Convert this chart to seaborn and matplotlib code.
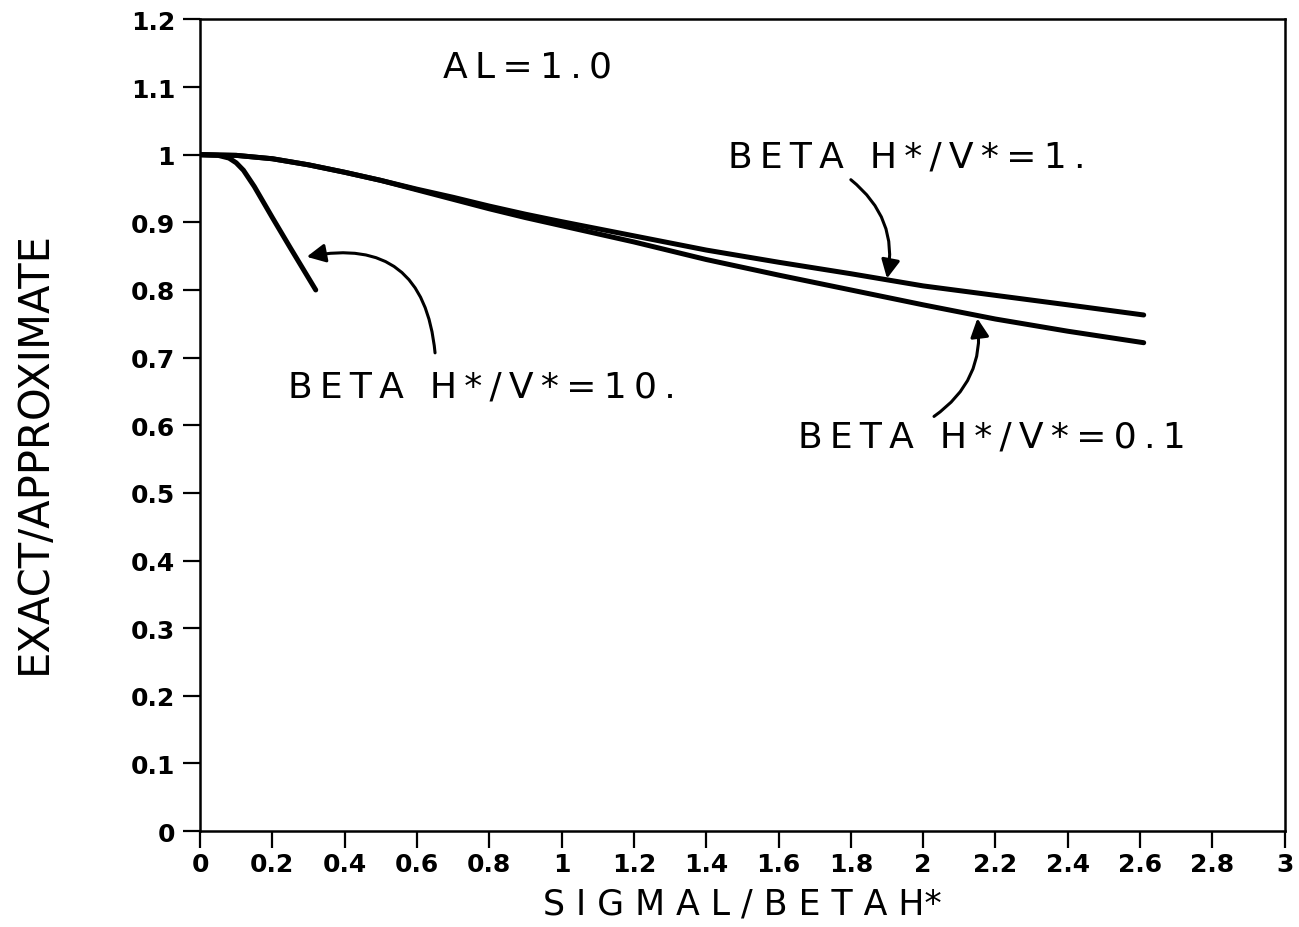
import numpy as np
import pandas as pd
import matplotlib
matplotlib.use("Agg")
import matplotlib.pyplot as plt
import seaborn as sns

# ---- data ----
x_beta1 = [0.0, 0.1, 0.2, 0.3, 0.4, 0.5, 0.6, 0.7, 0.8, 0.9, 1.0, 1.2, 1.4, 1.6, 1.8, 2.0, 2.2, 2.4, 2.61]
y_beta1 = [1.000, 0.999, 0.994, 0.985, 0.974, 0.962, 0.949, 0.937, 0.924, 0.912, 0.901, 0.880, 0.859, 0.841, 0.824, 0.806, 0.792, 0.778, 0.763]

x_beta01 = [0.0, 0.1, 0.2, 0.3, 0.4, 0.5, 0.6, 0.7, 0.8, 0.9, 1.0, 1.2, 1.4, 1.6, 1.8, 2.0, 2.2, 2.4, 2.61]
y_beta01 = [1.000, 0.999, 0.994, 0.985, 0.974, 0.962, 0.948, 0.934, 0.920, 0.907, 0.895, 0.871, 0.845, 0.822, 0.800, 0.778, 0.757, 0.739, 0.722]

x_beta10 = [0.0, 0.05, 0.08, 0.10, 0.12, 0.15, 0.20, 0.25, 0.32]
y_beta10 = [1.000, 0.999, 0.995, 0.988, 0.977, 0.953, 0.907, 0.862, 0.800]

series_names = ["BETA H*/V*=1.", "BETA H*/V*=0.1", "BETA H*/V*=10."]

x_ticks = [0, 0.2, 0.4, 0.6, 0.8, 1, 1.2, 1.4, 1.6, 1.8, 2, 2.2, 2.4, 2.6, 2.8, 3]
x_ticklabels = ["0", "0.2", "0.4", "0.6", "0.8", "1", "1.2", "1.4", "1.6", "1.8", "2",
                "2.2", "2.4", "2.6", "2.8", "3"]
y_ticks = [0, 0.1, 0.2, 0.3, 0.4, 0.5, 0.6, 0.7, 0.8, 0.9, 1.0, 1.1, 1.2]
y_ticklabels = ["0", "0.1", "0.2", "0.3", "0.4", "0.5", "0.6", "0.7", "0.8", "0.9", "1", "1.1", "1.2"]

df = pd.concat([
    pd.DataFrame({"x": x_beta1, "y": y_beta1, "series": series_names[0]}),
    pd.DataFrame({"x": x_beta01, "y": y_beta01, "series": series_names[1]}),
    pd.DataFrame({"x": x_beta10, "y": y_beta10, "series": series_names[2]}),
], ignore_index=True)

sns.set_theme(style="white")
plt.rcParams["font.family"] = ["DejaVu Sans"]

fig = plt.figure(figsize=(12.99, 9.28), dpi=100)
ax = fig.add_axes([0.154, 0.1034, 0.835, 0.8746])

sns.lineplot(data=df, x="x", y="y", units="series", estimator=None, sort=False,
             color="black", linewidth=3.6, legend=False, ax=ax,
             solid_capstyle="round")

ax.set_xlim(0, 3)
ax.set_ylim(0, 1.2)
ax.set_xticks(x_ticks)
ax.set_xticklabels(x_ticklabels, fontsize=18, fontweight="bold", color="black")
ax.set_yticks(y_ticks)
ax.set_yticklabels(y_ticklabels, fontsize=18, fontweight="bold", color="black")
ax.tick_params(axis="both", direction="out", length=12, width=1.6, color="black",
               left=True, bottom=True, top=False, right=False)
ax.tick_params(axis="y", pad=6)
ax.tick_params(axis="x", pad=3)
for s in ax.spines.values():
    s.set_visible(True)
    s.set_color("black")
    s.set_linewidth(1.8)

ax.set_xlabel("S I G M A L / B E T A H*", fontsize=25, color="black", labelpad=8)
ax.set_ylabel("EXACT/APPROXIMATE", fontsize=30, color="black")
ax.yaxis.set_label_coords(-0.134, 0.468)


def spaced(s):
    # plotter-style wide letter spacing
    return "\u2009".join(s)


tkw = dict(fontsize=26, color="black", va="baseline", ha="left")
ax.text(0.672, 1.115, spaced("AL=1.0"), **tkw)
ax.text(1.46, 0.982, spaced("BETA H*/V*=1."), **tkw)
ax.text(0.243, 0.6425, spaced("BETA H*/V*=10."), **tkw)
ax.text(1.653, 0.569, spaced("BETA H*/V*=0.1"), **tkw)

akw = dict(arrowstyle="-|>", color="black", lw=2.2, mutation_scale=28,
           shrinkA=0, shrinkB=0)
ax.annotate("", xy=(1.90, 0.817), xytext=(1.80, 0.963),
            arrowprops=dict(connectionstyle="arc3,rad=-0.3", **akw))
ax.annotate("", xy=(2.15, 0.758), xytext=(2.03, 0.613),
            arrowprops=dict(connectionstyle="arc3,rad=0.3", **akw))
ax.annotate("", xy=(0.295, 0.849), xytext=(0.65, 0.707),
            arrowprops=dict(connectionstyle="arc3,rad=0.55", **akw))

fig.savefig("out.png", dpi=100, facecolor="white")
